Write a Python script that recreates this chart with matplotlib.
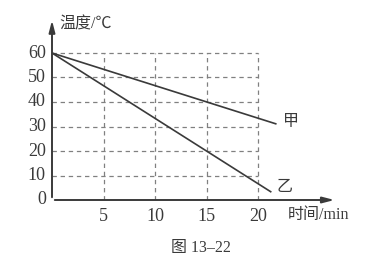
import matplotlib.pyplot as plt
import numpy as np

plt.rcParams['font.family'] = ['Liberation Serif', 'Noto Sans CJK SC']

# data
t_jia = [0, 21.8]
temp_jia = [60, 31]
t_yi = [0, 21.3]
temp_yi = [60, 3.2]
xticks = [5, 10, 15, 20]
yticks = [0, 10, 20, 30, 40, 50, 60]

ink = '#3a3a3a'
grid_c = '#808080'

fig = plt.figure(figsize=(3.9, 2.71), dpi=100)
W, H = 390, 271
x0, y0 = 52, 200
px_x, px_y = 10.3, 2.45
xmax, ymax = 28, 75
ax = fig.add_axes([x0 / W, (H - y0) / H, xmax * px_x / W, ymax * px_y / H])
ax.set_xlim(0, xmax)
ax.set_ylim(0, ymax)
ax.axis('off')

# dashed grid
for v in yticks[1:]:
    ax.plot([0, 20], [v, v], ls=(0, (3.5, 3)), color=grid_c, lw=0.9)
for v in xticks:
    ax.plot([v, v], [0, 60], ls=(0, (3.5, 3)), color=grid_c, lw=0.9)

# axes with arrows
ax.annotate('', xy=(27.7, 0), xytext=(0, 0),
            arrowprops=dict(arrowstyle='-|>,head_length=0.7,head_width=0.18', color=ink, lw=1.4),
            annotation_clip=False)
ax.annotate('', xy=(0, 74.5), xytext=(0, 0),
            arrowprops=dict(arrowstyle='-|>,head_length=0.7,head_width=0.18', color=ink, lw=1.4),
            annotation_clip=False)

ax.plot(t_jia, temp_jia, color=ink, lw=1.2, solid_capstyle='butt')
ax.plot(t_yi, temp_yi, color=ink, lw=1.2, solid_capstyle='butt')

for v in yticks:
    ax.text(-0.6, v, str(v), ha='right', va='center', fontsize=13, color=ink)
for v in xticks:
    ax.text(v, -3.2, str(v), ha='center', va='top', fontsize=13, color=ink)

ax.text(0.7, 71.5, '温度/℃', ha='left', va='center', fontsize=11.5, color=ink,
        family=['Liberation Serif', 'Noto Sans CJK SC'])
ax.text(22.9, -6, '时间/min', ha='left', va='center', fontsize=11.5, color=ink,
        family=['Liberation Serif', 'Noto Sans CJK SC'])
ax.text(22.4, 32, '甲', ha='left', va='center', fontsize=11.5, color=ink,
        family=['Noto Sans CJK SC'])
ax.text(21.8, 5.5, '乙', ha='left', va='center', fontsize=11.5, color=ink,
        family=['Noto Sans CJK SC'])

fig.text(201 / W, 1 - 248 / H, '图 13–22', ha='center', va='center', fontsize=11.5, color=ink,
         family=['Liberation Serif', 'Noto Sans CJK SC'])

fig.savefig('out.png', dpi=100)
